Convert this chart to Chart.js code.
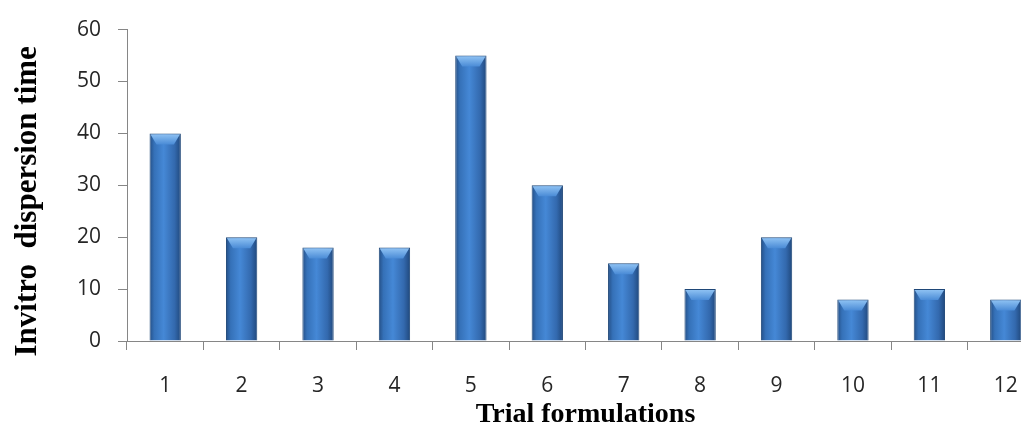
<!DOCTYPE html>
<html>
<head>
<meta charset="utf-8">
<script src="https://cdn.jsdelivr.net/npm/chart.js@4.4.1/dist/chart.umd.min.js"></script>
<style>
  html, body { margin: 0; padding: 0; background: #fff; overflow: hidden; }
  #wrap { width: 1046px; height: 432px; }
</style>
</head>
<body>
<div id="wrap"><canvas id="dispersionChart" width="1046" height="432"></canvas></div>
<script>
// Trial formulation data
const formulations = ['1', '2', '3', '4', '5', '6', '7', '8', '9', '10', '11', '12'];
const dispersionTime = [40, 20, 18, 18, 55, 30, 15, 10, 20, 8, 10, 8];
const yMin = 0;
const yMax = 60;
const yStep = 10;

// gives each bar the glossy "cylinder" look of the original
const barShading = {
    id: 'barShading',
    beforeDatasetsDraw(chart) {
        const ctx = chart.ctx;
        chart.getDatasetMeta(0).data.forEach(bar => {
            const left = bar.x - bar.width / 2;
            const g = ctx.createLinearGradient(left, 0, left + bar.width, 0);
            g.addColorStop(0, '#244f86');
            g.addColorStop(0.15, '#3571b8');
            g.addColorStop(0.45, '#4588d6');
            g.addColorStop(0.8, '#3369ae');
            g.addColorStop(1, '#20487c');
            // own options object per bar, the default one is shared
            bar.options = Object.assign({}, bar.options, { backgroundColor: g });
        });
    },
    afterDatasetsDraw(chart) {
        const ctx = chart.ctx;
        ctx.save();
        chart.getDatasetMeta(0).data.forEach(bar => {
            const left = bar.x - bar.width / 2;
            const right = bar.x + bar.width / 2;
            const top = bar.y + 1;
            const h = 10, inset = 7;
            const g = ctx.createLinearGradient(0, top, 0, top + h);
            g.addColorStop(0, '#8cc0f2');
            g.addColorStop(1, '#4a8bd6');
            ctx.fillStyle = g;
            ctx.beginPath();
            ctx.moveTo(left + 1, top);
            ctx.lineTo(right - 1, top);
            ctx.lineTo(right - inset, top + h);
            ctx.lineTo(left + inset, top + h);
            ctx.closePath();
            ctx.fill();
        });
        ctx.restore();
    }
};

const ctx = document.getElementById('dispersionChart').getContext('2d');
new Chart(ctx, {
    type: 'bar',
    data: {
        labels: formulations,
        datasets: [{
            data: dispersionTime,
            backgroundColor: '#3b78c0',
            borderColor: '#1f4778',
            borderWidth: 1,
            borderSkipped: 'bottom',
            categoryPercentage: 0.82,
            barPercentage: 0.5
        }]
    },
    options: {
        responsive: false,
        animation: false,
        layout: { padding: { top: 14, right: 2, left: 0, bottom: 0 } },
        plugins: {
            legend: { display: false },
            tooltip: { enabled: false }
        },
        scales: {
            y: {
                min: yMin,
                max: yMax,
                ticks: {
                    stepSize: yStep,
                    color: '#262626',
                    padding: 17,
                    font: { family: 'Open Sans', size: 21 }
                },
                grid: {
                    drawOnChartArea: false,
                    drawTicks: true,
                    tickLength: 9,
                    color: '#868686'
                },
                border: { color: '#868686', width: 1 },
                title: {
                    display: true,
                    text: 'Invitro  dispersion time',
                    color: '#000',
                    font: { family: 'Liberation Serif', size: 31, weight: 'bold' },
                    padding: { top: 9, bottom: 0 }
                },
                afterFit(scale) {
                    scale.width = 127;
                    // the original title sits a bit below the middle of the axis
                    if (!scale._titleShifted) {
                        const drawTitle = scale.drawTitle.bind(scale);
                        scale.drawTitle = function () {
                            scale.ctx.save();
                            scale.ctx.translate(0, 16);
                            drawTitle();
                            scale.ctx.restore();
                        };
                        scale._titleShifted = true;
                    }
                }
            },
            x: {
                ticks: {
                    color: '#262626',
                    padding: 23,
                    font: { family: 'Open Sans', size: 21 }
                },
                grid: {
                    drawOnChartArea: false,
                    drawTicks: true,
                    tickLength: 9,
                    color: '#868686'
                },
                border: { color: '#868686', width: 1 },
                title: {
                    display: true,
                    text: 'Trial formulations',
                    color: '#000',
                    font: { family: 'Liberation Serif', size: 28, weight: 'bold' },
                    padding: { top: 3, bottom: 0 }
                },
                afterFit(scale) { scale.height = 91; }
            }
        }
    },
    plugins: [barShading]
});
</script>
</body>
</html>
